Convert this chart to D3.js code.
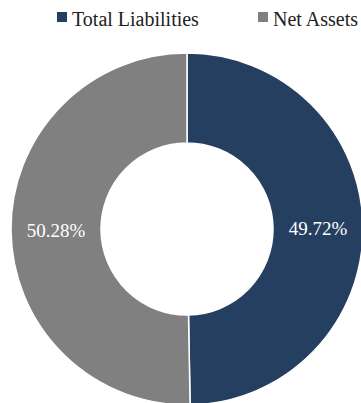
<!DOCTYPE html>
<html>
<head>
<meta charset="utf-8">
<script src="https://cdn.jsdelivr.net/npm/d3@7"></script>
<style>
  body { margin: 0; background: #fff; }
  svg { display: block; }
  svg text { font-family: "Liberation Serif", serif; }
</style>
</head>
<body>
<div id="chart"></div>
<script>
const categories = ["Total Liabilities", "Net Assets"];
const values = [49.72, 50.28];
const colors = ["#243F60", "#808080"];

const width = 361, height = 403;
const cx = 187, cy = 229, outerR = 176, innerR = 86;

const svg = d3.select("#chart")
  .append("svg")
  .attr("width", width)
  .attr("height", height);

const pie = d3.pie().sort(null).value(d => d.value);
const arc = d3.arc().innerRadius(innerR).outerRadius(outerR);
const data = pie(categories.map((c, i) => ({ name: c, value: values[i] })));

const g = svg.append("g").attr("transform", `translate(${cx},${cy})`);

g.selectAll("path")
  .data(data)
  .join("path")
  .attr("d", arc)
  .attr("fill", (d, i) => colors[i])
  .attr("stroke", "#fff")
  .attr("stroke-width", 1.5);

g.selectAll("text")
  .data(data)
  .join("text")
  .attr("transform", d => `translate(${arc.centroid(d)})`)
  .attr("text-anchor", "middle")
  .attr("dy", "0.35em")
  .attr("fill", "#fff")
  .attr("font-size", 19)
  .text(d => d.data.value.toFixed(2) + "%");

// legend
const legendX = [57, 258];
const legend = svg.append("g")
  .selectAll("g")
  .data(categories)
  .join("g")
  .attr("transform", (d, i) => `translate(${legendX[i]},12)`);

legend.append("rect")
  .attr("width", 10)
  .attr("height", 10)
  .attr("fill", (d, i) => colors[i]);

legend.append("text")
  .attr("x", 15)
  .attr("y", 14)
  .attr("fill", "#222")
  .attr("font-size", 20)
  .text(d => d);
</script>
</body>
</html>
